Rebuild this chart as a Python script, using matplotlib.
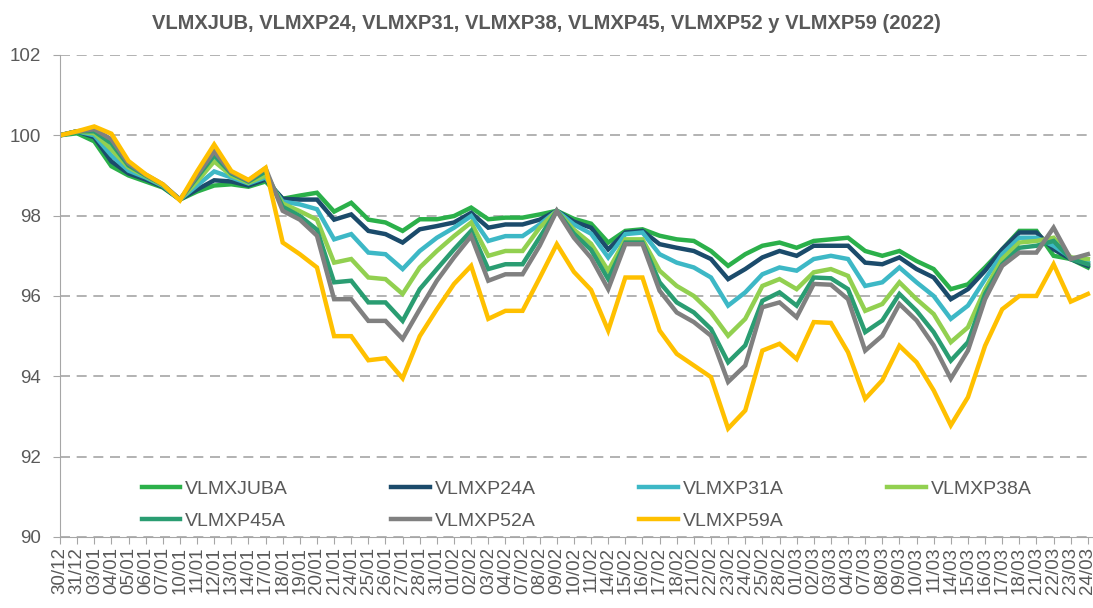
import numpy as np
import matplotlib
matplotlib.use("Agg")
import matplotlib.pyplot as plt

plt.rcParams['font.family'] = ['Liberation Sans', 'DejaVu Sans']

# Dates on the x axis
dates = ["30/12", "31/12", "03/01", "04/01", "05/01", "06/01", "07/01", "10/01",
         "11/01", "12/01", "13/01", "14/01", "17/01", "18/01", "19/01", "20/01",
         "21/01", "24/01", "25/01", "26/01", "27/01", "28/01", "31/01", "01/02",
         "02/02", "03/02", "04/02", "07/02", "08/02", "09/02", "10/02", "11/02",
         "14/02", "15/02", "16/02", "17/02", "18/02", "21/02", "22/02", "23/02",
         "24/02", "25/02", "28/02", "01/03", "02/03", "03/03", "04/03", "07/03",
         "08/03", "09/03", "10/03", "11/03", "14/03", "15/03", "16/03", "17/03",
         "18/03", "21/03", "22/03", "23/03", "24/03"]

# Series values (base 100)
vlmxjuba = [100.0, 100.05, 99.85, 99.23, 99.0, 98.85, 98.7, 98.4, 98.6, 98.75,
            98.78, 98.72, 98.85, 98.42, 98.5, 98.57, 98.1, 98.32, 97.9, 97.83,
            97.62, 97.91, 97.91, 97.99, 98.2, 97.91, 97.95, 97.95, 98.03, 98.12,
            97.92, 97.8, 97.33, 97.62, 97.66, 97.5, 97.41, 97.37, 97.12, 96.75,
            97.04, 97.25, 97.33, 97.2, 97.37, 97.41, 97.45, 97.12, 97.0, 97.12,
            96.87, 96.67, 96.17, 96.29, 96.71, 97.16, 97.62, 97.62, 97.0, 96.92,
            96.71]
vlmxp24a = [100.0, 100.1, 99.95, 99.35, 99.05, 98.9, 98.72, 98.4, 98.65, 98.88,
            98.85, 98.75, 98.9, 98.42, 98.4, 98.4, 97.9, 98.03, 97.62, 97.54,
            97.33, 97.66, 97.74, 97.83, 98.07, 97.7, 97.78, 97.78, 97.9, 98.12,
            97.85, 97.7, 97.16, 97.58, 97.62, 97.29, 97.2, 97.12, 96.92, 96.42,
            96.67, 96.96, 97.12, 97.0, 97.25, 97.25, 97.25, 96.83, 96.79, 96.96,
            96.67, 96.46, 95.92, 96.17, 96.63, 97.16, 97.58, 97.58, 97.16, 96.92,
            96.75]
vlmxp31a = [100.0, 100.1, 100.0, 99.5, 99.12, 98.95, 98.74, 98.4, 98.75, 99.1,
            98.95, 98.8, 98.95, 98.35, 98.28, 98.16, 97.41, 97.54, 97.08, 97.04,
            96.67, 97.12, 97.45, 97.7, 97.99, 97.37, 97.49, 97.49, 97.78, 98.12,
            97.78, 97.55, 96.96, 97.54, 97.58, 97.04, 96.83, 96.71, 96.46, 95.76,
            96.09, 96.54, 96.71, 96.63, 96.92, 97.0, 96.92, 96.25, 96.34, 96.71,
            96.34, 96.0, 95.43, 95.76, 96.42, 97.04, 97.45, 97.45, 97.25, 96.96,
            96.83]
vlmxp38a = [100.0, 100.1, 100.05, 99.65, 99.2, 98.98, 98.76, 98.4, 98.85, 99.35,
            99.0, 98.82, 99.0, 98.3, 98.11, 97.9, 96.83, 96.92, 96.46, 96.42,
            96.05, 96.71, 97.12, 97.49, 97.83, 97.0, 97.12, 97.12, 97.7, 98.12,
            97.65, 97.3, 96.63, 97.41, 97.41, 96.63, 96.25, 96.0, 95.59, 95.01,
            95.43, 96.25, 96.42, 96.17, 96.59, 96.67, 96.5, 95.63, 95.8, 96.34,
            95.92, 95.55, 94.85, 95.22, 96.17, 96.92, 97.33, 97.37, 97.45, 96.96,
            96.92]
vlmxp45a = [100.0, 100.1, 100.1, 99.8, 99.25, 99.0, 98.77, 98.4, 98.95, 99.5,
            99.05, 98.85, 99.1, 98.22, 97.99, 97.65, 96.34, 96.38, 95.84, 95.84,
            95.38, 96.17, 96.67, 97.16, 97.62, 96.67, 96.79, 96.79, 97.46, 98.12,
            97.55, 97.15, 96.42, 97.33, 97.33, 96.34, 95.84, 95.59, 95.18, 94.35,
            94.77, 95.88, 96.09, 95.76, 96.46, 96.44, 96.17, 95.1, 95.39, 96.05,
            95.63, 95.1, 94.39, 94.85, 96.05, 96.79, 97.2, 97.25, 97.37, 96.92,
            96.79]
vlmxp52a = [100.0, 100.1, 100.15, 99.9, 99.3, 99.02, 98.78, 98.4, 99.0, 99.6,
            99.08, 98.87, 99.18, 98.12, 97.9, 97.5, 95.92, 95.92, 95.38, 95.38,
            94.93, 95.67, 96.38, 96.96, 97.49, 96.38, 96.54, 96.54, 97.25, 98.12,
            97.45, 96.95, 96.17, 97.29, 97.29, 96.13, 95.59, 95.35, 95.01, 93.86,
            94.27, 95.72, 95.84, 95.47, 96.3, 96.28, 95.92, 94.64, 95.01, 95.8,
            95.39, 94.77, 93.94, 94.64, 95.92, 96.75, 97.08, 97.08, 97.7, 96.92,
            97.04]
vlmxp59a = [100.0, 100.1, 100.22, 100.04, 99.36, 99.03, 98.78, 98.38, 99.1, 99.77,
            99.11, 98.89, 99.19, 97.33, 97.04, 96.71, 95.0, 95.0, 94.4, 94.45,
            93.95, 95.0, 95.67, 96.3, 96.75, 95.43, 95.63, 95.63, 96.45, 97.29,
            96.6, 96.15, 95.14, 96.46, 96.46, 95.14, 94.56, 94.27, 93.98, 92.7,
            93.15, 94.64, 94.81, 94.43, 95.35, 95.33, 94.6, 93.44, 93.9, 94.76,
            94.35, 93.65, 92.78, 93.48, 94.76, 95.67, 96.0, 96.0, 96.79, 95.86,
            96.05]

names = ["VLMXJUBA", "VLMXP24A", "VLMXP31A", "VLMXP38A", "VLMXP45A", "VLMXP52A", "VLMXP59A"]
series = [vlmxjuba, vlmxp24a, vlmxp31a, vlmxp38a, vlmxp45a, vlmxp52a, vlmxp59a]
colors = ["#2BB04A", "#1B4B6B", "#3DB8C6", "#92D050", "#2A9D72", "#808080", "#FFC000"]

text_color = "#595959"
grid_color = "#A6A6A6"

fig = plt.figure(figsize=(10.93, 6.08), dpi=100)
ax = fig.add_axes([0.0549, 0.1168, 0.9451, 0.7928])

x = np.arange(len(dates))
lines = []
for name, vals, col in zip(names, series, colors):
    ln, = ax.plot(x, vals, color=col, linewidth=3.2, label=name,
                  solid_joinstyle='miter')
    lines.append(ln)

ax.set_xlim(0, 60.3)
ax.set_ylim(90, 102)
ax.set_yticks([90, 92, 94, 96, 98, 100, 102])
ax.set_xticks(x)
ax.set_xticklabels(dates, rotation=90, fontsize=13.5, color=text_color)
ax.tick_params(axis='y', labelsize=13.5, colors=text_color, length=5, color=grid_color, pad=9)
ax.tick_params(axis='x', length=5, color=grid_color, pad=2)
for lab in ax.get_yticklabels():
    lab.set_color(text_color)

ax.yaxis.grid(True, linestyle=(0, (6, 4)), color=grid_color, linewidth=1.2)
ax.set_axisbelow(True)
for side in ["top", "right"]:
    ax.spines[side].set_visible(False)
ax.spines["left"].set_color(grid_color)
ax.spines["bottom"].set_color(grid_color)

# Legend: filled row by row (JUBA, 24A, 31A, 38A / 45A, 52A, 59A)
order = [0, 4, 1, 5, 2, 6, 3]
leg = ax.legend([lines[i] for i in order], [names[i] for i in order],
                ncol=4, frameon=False, loc="lower left",
                bbox_to_anchor=(0.062, -0.022), fontsize=14,
                handlelength=2.0, handletextpad=0.25, columnspacing=5.3,
                labelspacing=0.75)
for t in leg.get_texts():
    t.set_color(text_color)

fig.text(0.5, 0.962, "VLMXJUB, VLMXP24, VLMXP31, VLMXP38, VLMXP45, VLMXP52 y VLMXP59 (2022)",
         ha="center", va="center", fontsize=14.5, fontweight="bold", color=text_color)

fig.savefig("out.png", dpi=100)
